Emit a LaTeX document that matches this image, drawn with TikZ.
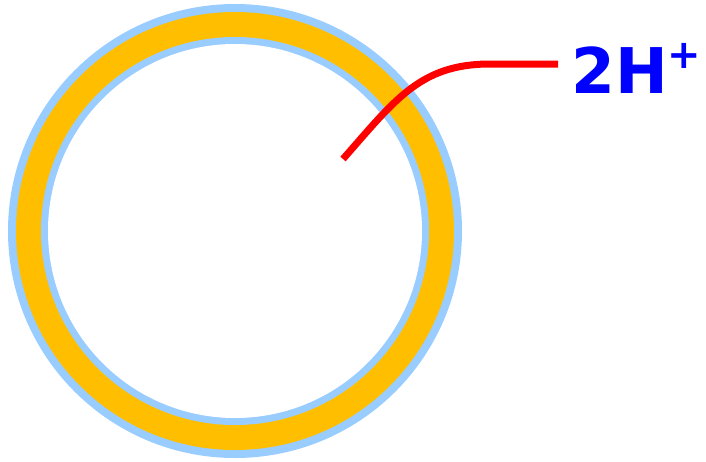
\documentclass[tikz,border=0pt]{standalone}
\usepackage{fontspec}
\setmainfont{DejaVu Sans}
\definecolor{ringblue}{RGB}{153,204,255}
\definecolor{ringorange}{RGB}{255,191,0}
\definecolor{protonblue}{RGB}{0,0,255}
\definecolor{linkred}{RGB}{255,0,0}
\begin{document}
\begin{tikzpicture}[x=1pt,y=-1pt,
  ionlabel/.style={anchor=base west,inner sep=0pt,text=protonblue,font=\bfseries\fontsize{63}{63}\selectfont},
  link/.style={draw=linkred,line width=7pt}]
\useasboundingbox (0,0) rectangle (706,461);
\coordinate (c) at (235,231);
\fill[ringblue] (c) circle[radius=227];
\fill[ringorange] (c) circle[radius=219];
\fill[ringblue] (c) circle[radius=194];
\fill[white] (c) circle[radius=187];
\node[ionlabel] (ion) at (571,93) {2H\raisebox{25pt}{\fontsize{40}{40}\selectfont +}};
\coordinate (s) at (343,159);
\coordinate (e) at (558,64);
\path[link] (s) .. controls (395,100) and (420,64) .. (490,64) -- (e);
\end{tikzpicture}
\end{document}
